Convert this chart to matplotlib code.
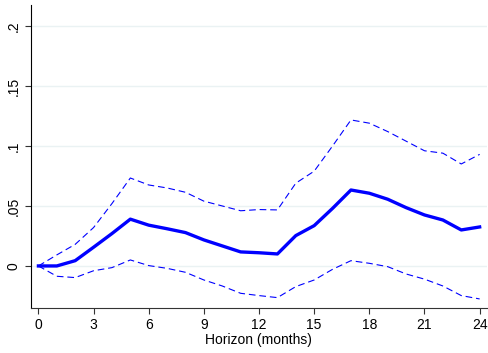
import matplotlib
matplotlib.use('Agg')
import matplotlib.pyplot as plt

plt.rcParams['font.family'] = ['Liberation Sans', 'DejaVu Sans']

horizon = list(range(25))
irf = [0, 0, 0.0044, 0.0156, 0.027, 0.039, 0.034, 0.031, 0.0278, 0.0217, 0.0167,
       0.0117, 0.011, 0.010, 0.0253, 0.0336, 0.048, 0.0633, 0.0606, 0.0556, 0.0486,
       0.0425, 0.0383, 0.030, 0.0325]
upper = [0, 0.0092, 0.018, 0.032, 0.052, 0.0733, 0.0675, 0.065, 0.0614, 0.054, 0.050,
         0.046, 0.047, 0.0467, 0.069, 0.079, 0.100, 0.1217, 0.119, 0.112, 0.104,
         0.096, 0.094, 0.085, 0.093]
lower = [0, -0.0086, -0.0097, -0.004, -0.0014, 0.005, 0.0003, -0.002, -0.0053, -0.0117,
         -0.0167, -0.0228, -0.0247, -0.0264, -0.0172, -0.0117, -0.0028, 0.0044, 0.0022,
         -0.0006, -0.0067, -0.011, -0.0167, -0.0247, -0.0275]

xticks = list(range(0, 25, 3))
yticks = [0, 0.05, 0.1, 0.15, 0.2]
ylabels = ['0', '.05', '.1', '.15', '.2']

fig = plt.figure(figsize=(4.88, 3.53), dpi=100)
ax = fig.add_axes([30.7 / 488, 1 - 308.3 / 353, (487 - 30.7) / 488, (308.3 - 5) / 353])

ax.plot(horizon, upper, color='#0000ff', lw=0.8, dashes=(6, 3.5))
ax.plot(horizon, lower, color='#0000ff', lw=0.8, dashes=(6, 3.5))
ax.plot(horizon, irf, color='#0000ff', lw=2.4, solid_joinstyle='round')

ax.set_xlim(-0.42, 24.4)
ax.set_ylim(-0.0353, 0.2175)
ax.set_xticks(xticks)
ax.set_yticks(yticks)
ax.set_yticklabels(ylabels, rotation=90, va='center')
ax.tick_params(labelsize=10, color='#333333', length=4, width=0.8, pad=3)
ax.grid(axis='y', color='#eaf2f3', lw=1)
ax.set_axisbelow(True)
ax.spines['top'].set_visible(False)
ax.spines['right'].set_visible(False)
ax.spines['left'].set_color('black')
ax.spines['bottom'].set_color('#333333')
ax.set_xlabel('Horizon (months)', fontsize=10, labelpad=1)

fig.savefig('out.png', dpi=100)
